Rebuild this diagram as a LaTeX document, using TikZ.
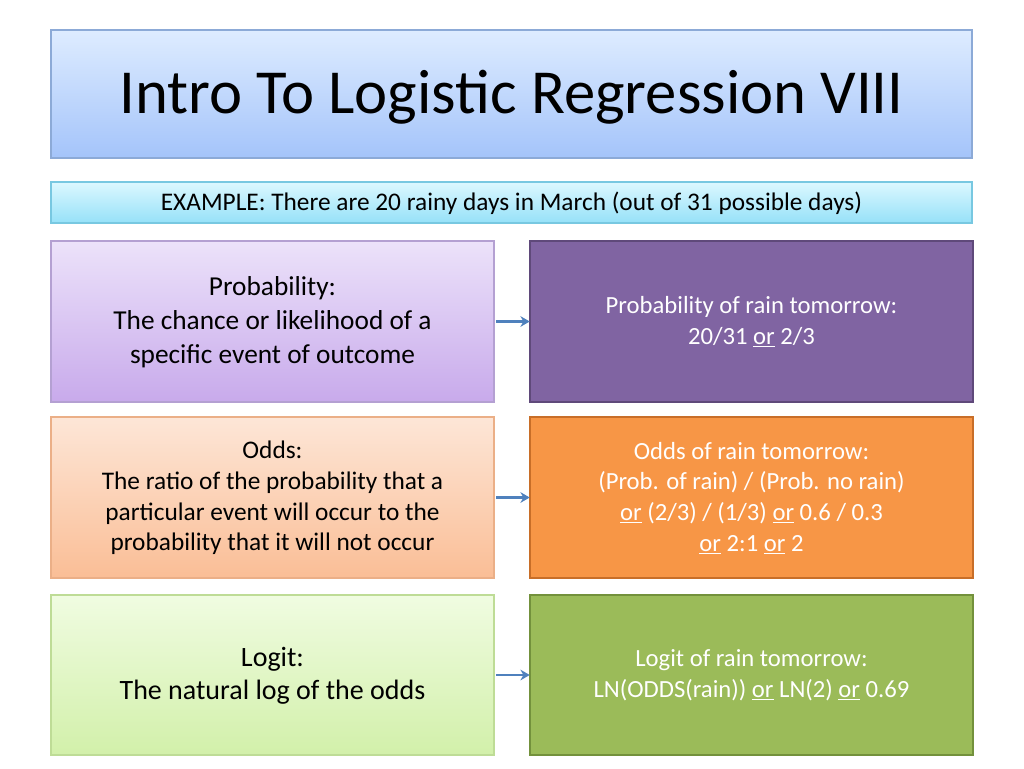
\documentclass[tikz,border=0pt]{standalone}
\usepackage{fontspec}
\setmainfont{Carlito}
\usetikzlibrary{arrows.meta}
\definecolor{arr}{HTML}{4F81BD}
\tikzset{
  conn/.style={draw=arr, line width=1.6pt, -{Stealth[length=7pt,width=8pt]}}
}
\newcommand{\ul}[1]{\underline{#1}}
\begin{document}
\begin{tikzpicture}[x=0.75pt,y=-0.75pt]
\useasboundingbox (0,0) rectangle (1024,768);
\fill[white] (0,0) rectangle (1024,768);
% title
\shade[top color={rgb,255:red,222;green,236;blue,255}, bottom color={rgb,255:red,164;green,196;blue,250}] (51,30) rectangle (972,158);
\draw[draw={rgb,255:red,140;green,170;blue,215}, line width=0.8pt] (51,30) rectangle (972,158);
\node[font=\fontsize{47}{56}\selectfont] (title) at (511.5,97) {Intro To Logistic Regression VIII};
% example
\shade[top color={rgb,255:red,220;green,248;blue,255}, bottom color={rgb,255:red,150;green,225;blue,248}] (51,182) rectangle (972,223);
\draw[draw={rgb,255:red,120;green,200;blue,225}, line width=0.8pt] (51,182) rectangle (972,223);
\node[font=\fontsize{19}{23}\selectfont] (ex) at (511.5,203) {EXAMPLE: There are 20 rainy days in March (out of 31 possible days)};
% row 1
\shade[top color={rgb,255:red,236;green,226;blue,250}, bottom color={rgb,255:red,200;green,170;blue,235}] (51,241) rectangle (494,402);
\draw[draw={rgb,255:red,180;green,160;blue,210}, line width=0.8pt] (51,241) rectangle (494,402);
\node[minimum width=443*0.75pt, minimum height=161*0.75pt] (p) at (272.5,321.5) {};
\node[align=center, font=\fontsize{20.5}{25.5}\selectfont] at (272.5,322) {Probability:\\The chance or likelihood of a\\specific event of outcome};
\fill[fill={rgb,255:red,128;green,100;blue,162}] (530,241) rectangle (973,402);
\draw[draw={rgb,255:red,95;green,73;blue,122}, line width=0.8pt] (530,241) rectangle (973,402);
\node[minimum width=443*0.75pt, minimum height=161*0.75pt] (pr) at (751.5,321.5) {};
\node[align=center, text=white, font=\fontsize{18.5}{23}\selectfont] at (751.5,322) {Probability of rain tomorrow:\\20/31 \ul{or} 2/3};
% row 2
\shade[top color={rgb,255:red,253;green,230;blue,215}, bottom color={rgb,255:red,250;green,190;blue,150}] (51,417) rectangle (494,578);
\draw[draw={rgb,255:red,235;green,175;blue,135}, line width=0.8pt] (51,417) rectangle (494,578);
\node[minimum width=443*0.75pt, minimum height=161*0.75pt] (o) at (272.5,497.5) {};
\node[align=center, font=\fontsize{19}{23}\selectfont] at (272.5,498) {Odds:\\The ratio of the probability that a\\particular event will occur to the\\probability that it will not occur};
\fill[fill={rgb,255:red,247;green,150;blue,70}] (530,417) rectangle (973,578);
\draw[draw={rgb,255:red,200;green,110;blue,40}, line width=0.8pt] (530,417) rectangle (973,578);
\node[minimum width=443*0.75pt, minimum height=161*0.75pt] (or) at (751.5,497.5) {};
\node[align=center, text=white, font=\fontsize{18.5}{23}\selectfont] at (751.5,498) {Odds of rain tomorrow:\\(Prob. of rain) / (Prob. no rain)\\\ul{or} (2/3) / (1/3) \ul{or} 0.6 / 0.3\\\ul{or} 2:1 \ul{or} 2};
% row 3
\shade[top color={rgb,255:red,240;green,252;blue,225}, bottom color={rgb,255:red,210;green,240;blue,170}] (51,595) rectangle (494,755);
\draw[draw={rgb,255:red,190;green,220;blue,150}, line width=0.8pt] (51,595) rectangle (494,755);
\node[minimum width=443*0.75pt, minimum height=160*0.75pt] (l) at (272.5,675) {};
\node[align=center, font=\fontsize{21}{25}\selectfont] at (272.5,676) {Logit:\\The natural log of the odds};
\fill[fill={rgb,255:red,155;green,187;blue,89}] (530,595) rectangle (973,755);
\draw[draw={rgb,255:red,115;green,145;blue,60}, line width=0.8pt] (530,595) rectangle (973,755);
\node[minimum width=443*0.75pt, minimum height=160*0.75pt] (lr) at (751.5,675) {};
\node[align=center, text=white, font=\fontsize{18.5}{23}\selectfont] at (751.5,675) {Logit of rain tomorrow:\\LN(ODDS(rain)) \ul{or} LN(2) \ul{or} 0.69};
% arrows
\draw[conn] (p.east) ++(2,0) -- (pr.west);
\draw[conn] (o.east) ++(2,0) -- (or.west);
\draw[conn] (l.east) ++(2,0) -- (lr.west);
\end{tikzpicture}
\end{document}
